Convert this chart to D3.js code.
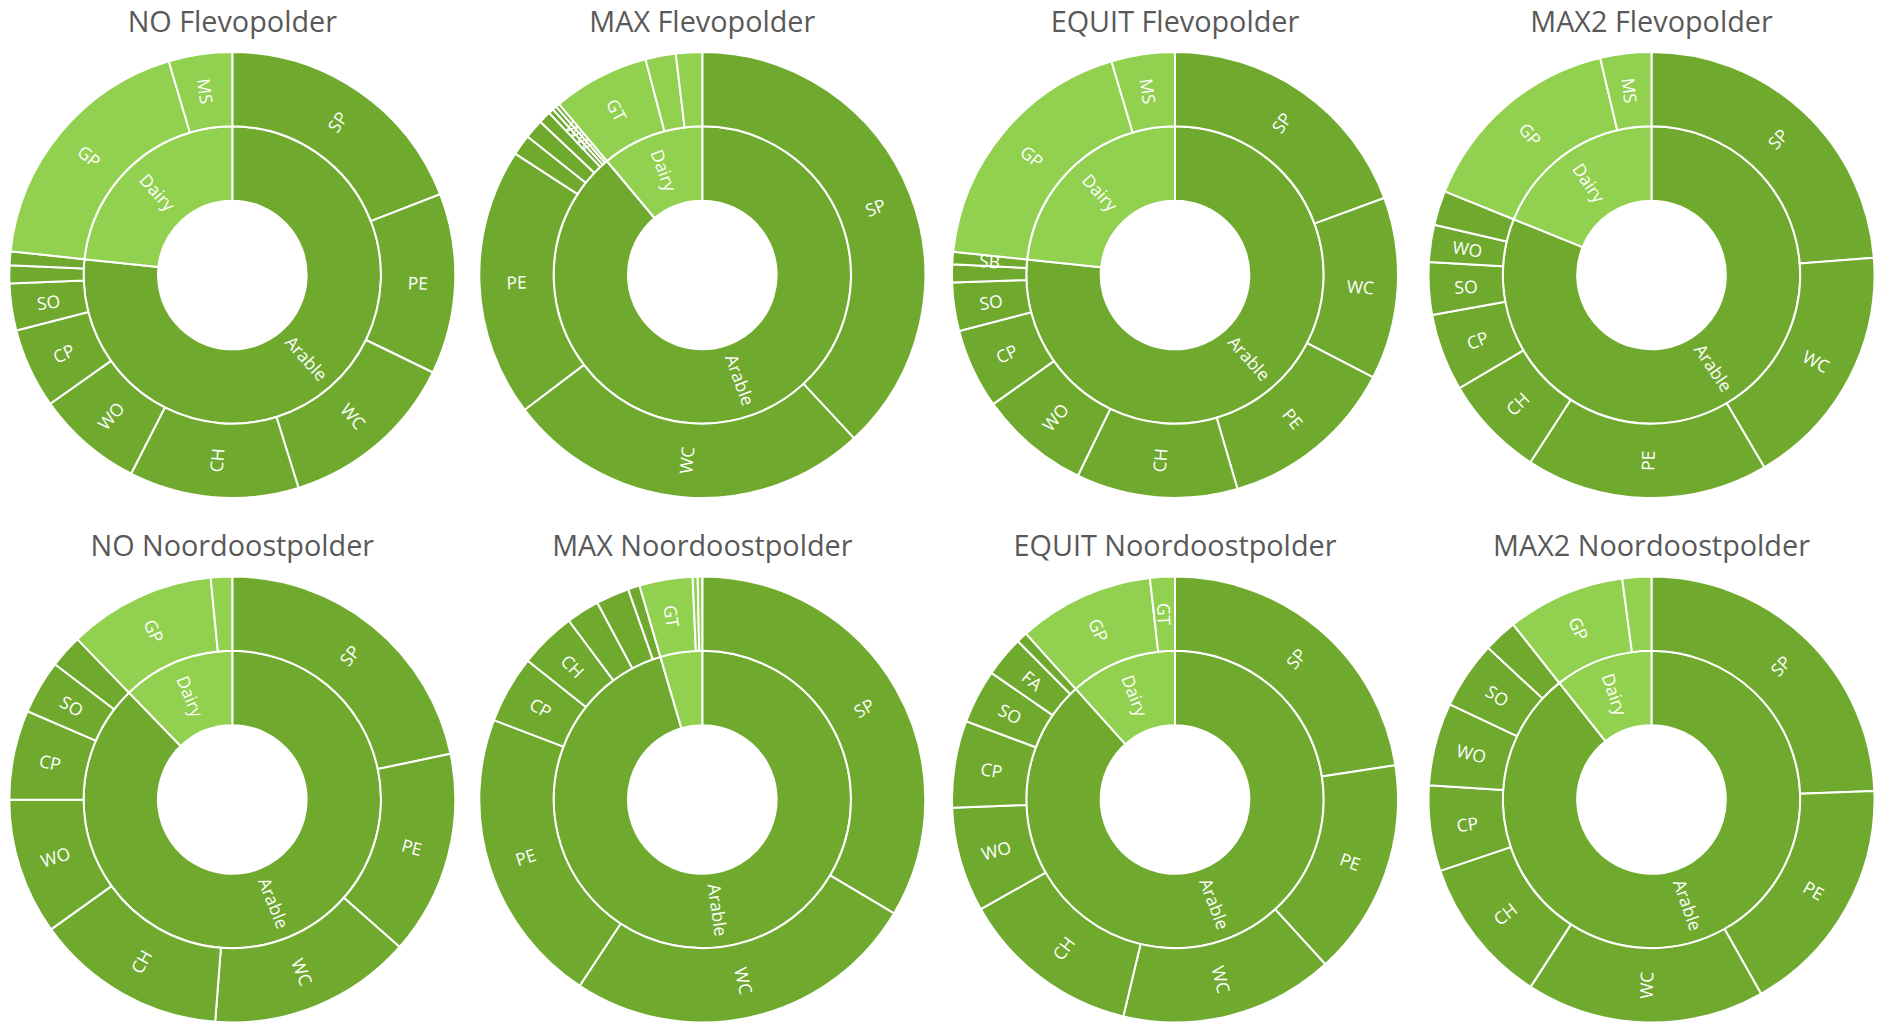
<!DOCTYPE html>
<html>
<head>
<meta charset="utf-8">
<script src="https://cdn.jsdelivr.net/npm/d3@7"></script>
<style>
  html, body { margin: 0; padding: 0; background: #ffffff; }
  svg { display: block; }
</style>
</head>
<body>
<svg id="chart" width="1883" height="1024"></svg>
<script>
// Land-use shares (% of farmland) per scenario, grouped by farm type.
// Crops are listed in the order they run clockwise from 12 o'clock; "" = slice without a label.

const noFlevoArableCrops = ["SP", "PE", "WC", "CH", "WO", "CP", "SO", "", ""];
const noFlevoArableShares = [19.1, 13.1, 13.0, 12.3, 7.7, 5.8, 3.4, 1.3, 1.0];
const noFlevoDairyCrops = ["GP", "MS"];
const noFlevoDairyShares = [18.7, 4.6];

const maxFlevoArableCrops = ["SP", "WC", "PE", "", "", "", "", "WW", ""];
const maxFlevoArableShares = [38.1, 26.6, 19.5, 1.5, 1.4, 0.9, 0.36, 0.31, 0.28];
const maxFlevoDairyCrops = ["GT", "", ""];
const maxFlevoDairyShares = [7.0, 2.2, 1.9];

const equitFlevoArableCrops = ["SP", "WC", "PE", "CH", "WO", "CP", "SO", "", "SB"];
const equitFlevoArableShares = [19.4, 13.2, 12.9, 11.7, 8.0, 5.8, 3.5, 1.3, 0.9];
const equitFlevoDairyCrops = ["GP", "MS"];
const equitFlevoDairyShares = [18.75, 4.6];

const max2FlevoArableCrops = ["SP", "WC", "PE", "CH", "CP", "SO", "WO", ""];
const max2FlevoArableShares = [23.8, 17.8, 17.6, 7.4, 5.6, 3.8, 2.7, 2.5];
const max2FlevoDairyCrops = ["GP", "MS"];
const max2FlevoDairyShares = [15.2, 3.7];

const noNoordArableCrops = ["SP", "PE", "WC", "CH", "WO", "CP", "SO", ""];
const noNoordArableShares = [21.75, 14.8, 14.75, 13.9, 9.9, 6.5, 3.9, 2.4];
const noNoordDairyCrops = ["GP", ""];
const noNoordDairyShares = [10.7, 1.55];

const maxNoordArableCrops = ["SP", "WC", "PE", "CP", "CH", "", "", ""];
const maxNoordArableShares = [33.5, 25.7, 21.5, 4.9, 4.1, 2.4, 2.4, 0.85];
const maxNoordDairyCrops = ["GT", "", ""];
const maxNoordDairyShares = [3.85, 0.36, 0.33];

const equitNoordArableCrops = ["SP", "PE", "WC", "CH", "WO", "CP", "SO", "FA", ""];
const equitNoordArableShares = [22.55, 15.7, 15.5, 13.1, 7.6, 6.3, 3.9, 2.95, 0.8];
const equitNoordDairyCrops = ["GP", "GT"];
const equitNoordDairyShares = [9.85, 1.8];

const max2NoordArableCrops = ["SP", "PE", "WC", "CH", "CP", "WO", "SO", ""];
const max2NoordArableShares = [24.4, 17.45, 17.3, 10.7, 6.2, 6.0, 4.9, 2.45];
const max2NoordDairyCrops = ["GP", ""];
const max2NoordDairyShares = [8.55, 2.1];

const panelTitles = [
  "NO Flevopolder", "MAX Flevopolder", "EQUIT Flevopolder", "MAX2 Flevopolder",
  "NO Noordoostpolder", "MAX Noordoostpolder", "EQUIT Noordoostpolder", "MAX2 Noordoostpolder"
];

const farmTypes = ["Arable", "Dairy"];

const panelData = [
  [[noFlevoArableCrops, noFlevoArableShares], [noFlevoDairyCrops, noFlevoDairyShares]],
  [[maxFlevoArableCrops, maxFlevoArableShares], [maxFlevoDairyCrops, maxFlevoDairyShares]],
  [[equitFlevoArableCrops, equitFlevoArableShares], [equitFlevoDairyCrops, equitFlevoDairyShares]],
  [[max2FlevoArableCrops, max2FlevoArableShares], [max2FlevoDairyCrops, max2FlevoDairyShares]],
  [[noNoordArableCrops, noNoordArableShares], [noNoordDairyCrops, noNoordDairyShares]],
  [[maxNoordArableCrops, maxNoordArableShares], [maxNoordDairyCrops, maxNoordDairyShares]],
  [[equitNoordArableCrops, equitNoordArableShares], [equitNoordDairyCrops, equitNoordDairyShares]],
  [[max2NoordArableCrops, max2NoordArableShares], [max2NoordDairyCrops, max2NoordDairyShares]]
];

// ---- layout ----
const colCenters = [232.3, 702.3, 1175, 1651.5];
const rowCenters = [275, 799.5];
const titleBaselines = [31.5, 556];
const outerRadius = 223;
const labelSize = 17.5;
const fontFamily = "'Segoe UI', 'Open Sans', 'Noto Sans', sans-serif";

const color = d3.scaleOrdinal().domain(farmTypes).range(["#6FAA2F", "#92D050"]);

const svg = d3.select("#chart");

// Depth 0 (root) maps to the hole, depth 1 to the farm-type ring, depth 2 to the crop ring.
const radius = d3.scaleLinear().domain([0, 3]).range([0, outerRadius]);

const arc = d3.arc()
  .startAngle(d => d.x0)
  .endAngle(d => d.x1)
  .innerRadius(d => radius(d.y0))
  .outerRadius(d => radius(d.y1));

// Text runs along the radius, flipped so that it never reads upside down.
function labelRotation(d) {
  const mid = (d.x0 + d.x1) / 2 * 180 / Math.PI;
  let rot = mid - 90;
  while (rot > 180) rot -= 360;
  while (rot <= -180) rot += 360;
  if (rot > 90) rot -= 180;
  if (rot < -90) rot += 180;
  return rot;
}

// Farm-type names are only written when the slice is wide enough to hold them.
function farmLabelFits(d) {
  const arcLen = (d.x1 - d.x0) * radius((d.y0 + d.y1) / 2);
  return arcLen > d.data.name.length * labelSize * 0.5;
}

panelData.forEach((groups, i) => {
  const col = i % 4, row = Math.floor(i / 4);
  const cx = colCenters[col], cy = rowCenters[row];

  const tree = {
    name: "",
    children: groups.map(([crops, shares], k) => ({
      name: farmTypes[k],
      children: crops.map((c, j) => ({ name: c, value: shares[j] }))
    }))
  };

  const root = d3.hierarchy(tree).sum(d => d.value || 0);
  d3.partition().size([2 * Math.PI, 3])(root);
  const nodes = root.descendants().filter(d => d.depth > 0);

  svg.append("text")
    .attr("x", cx)
    .attr("y", titleBaselines[row])
    .attr("text-anchor", "middle")
    .attr("font-family", fontFamily)
    .attr("font-size", 28.8)
    .attr("fill", "#595959")
    .text(panelTitles[i]);

  const g = svg.append("g").attr("transform", `translate(${cx},${cy})`);

  g.selectAll("path")
    .data(nodes)
    .join("path")
    .attr("d", arc)
    .attr("fill", d => color(d.depth === 1 ? d.data.name : d.parent.data.name))
    .attr("stroke", "#ffffff")
    .attr("stroke-width", 2)
    .attr("stroke-linejoin", "round");

  g.selectAll("text")
    .data(nodes.filter(d => d.data.name !== "" && (d.depth === 2 || farmLabelFits(d))))
    .join("text")
    .attr("transform", d => {
      const a = (d.x0 + d.x1) / 2;
      const r = radius((d.y0 + d.y1) / 2);
      return `translate(${r * Math.sin(a)},${-r * Math.cos(a)}) rotate(${labelRotation(d)})`;
    })
    .attr("text-anchor", "middle")
    .attr("dominant-baseline", "central")
    .attr("font-family", fontFamily)
    .attr("font-size", labelSize)
    .attr("fill", "#ffffff")
    .text(d => d.data.name);
});
</script>
</body>
</html>
